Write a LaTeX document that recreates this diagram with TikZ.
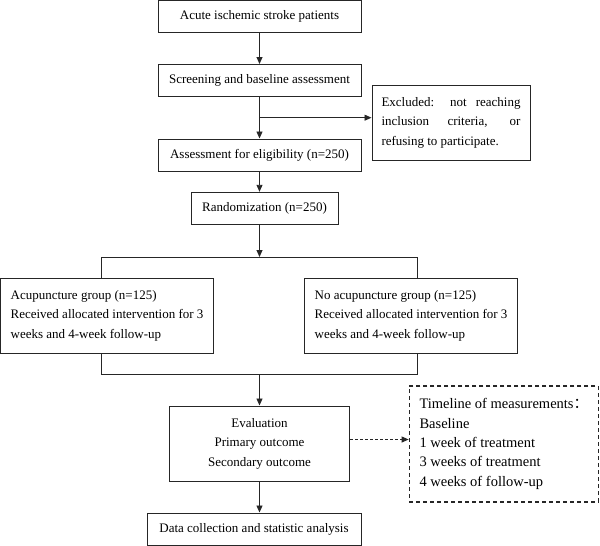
\documentclass[tikz,border=0pt]{standalone}
\usepackage{fontspec}
\setmainfont{Liberation Serif}
\newfontfamily\cjk{Noto Sans CJK SC}
\usetikzlibrary{arrows.meta}
\begin{document}
\begin{tikzpicture}[x=1pt,y=-1pt,
  box/.style={draw=black!85, line width=1pt, inner sep=0pt, minimum height=32pt,
    font=\fontsize{13}{19.5}\selectfont},
  conn/.style={draw=black!85, line width=0.9pt},
  arr/.style={conn, -{Triangle[length=7pt,width=6pt]}},
  darr/.style={conn, dash pattern=on 3pt off 2pt, -{Triangle[length=7pt,width=6pt]}},
]
\useasboundingbox (0,0) rectangle (600,546);

\node[box, minimum width=203pt] (n1) at (259.5,16.2) {Acute ischemic stroke patients};
\node[box, minimum width=203pt] (n2) at (259.5,80.5) {Screening and baseline assessment};
\node[box, minimum width=158pt, minimum height=75.5pt, align=left] (ex) at (451,122.75)
  {\makebox[139pt][s]{Excluded: not reaching}\\
   \makebox[139pt][s]{inclusion criteria, or}\\
   refusing to participate.};
\node[box, minimum width=203pt] (n3) at (259.5,155) {Assessment for eligibility (n=250)};
\node[box, minimum width=147pt] (rand) at (264.5,208.3) {Randomization (n=250)};

\node[box, minimum width=213pt, minimum height=75pt, align=left] (gl) at (107,315.5)
  {Acupuncture group (n=125)\\
   Received allocated intervention for 3\\
   weeks and 4-week follow-up};
\node[box, minimum width=213pt, minimum height=75pt, align=left] (gr) at (411,315.5)
  {No acupuncture group (n=125)\\
   Received allocated intervention for 3\\
   weeks and 4-week follow-up};

\node[box, minimum width=180pt, minimum height=75pt, align=center] (ev) at (259.5,443.5)
  {Evaluation\\ Primary outcome\\ Secondary outcome};

\node[draw=black!85, line width=1.3pt, dash pattern=on 4pt off 3pt, inner sep=0pt,
  minimum width=189pt, minimum height=116pt, align=left,
  font=\fontsize{14.5}{19.4}\selectfont] (tl) at (503.8,444)
  {Timeline of measurements{\cjk ：}\\
   Baseline\\
   1 week of treatment\\
   3 weeks of treatment\\
   4 weeks of follow-up};

\node[box, minimum width=214pt] (data) at (254,529) {Data collection and statistic analysis};

% connectors
\draw[arr] (n1.south) -- (n2.north);
\draw[arr] (n2.south) -- (n3.north);
\coordinate (br) at (259.5,117.7);
\draw[arr] (br) -- (br -| ex.west);
\draw[arr] (n3.south) -- (n3.south |- rand.north);

\coordinate (sp) at (259.5,257);
\coordinate (sl) at (101,257);
\coordinate (sr) at (417,257);
\draw[arr] (rand.south -| sp) -- (sp);
\draw[conn] (gl.north -| sl) -- (sl) -- (sr) -- (gr.north -| sr);

\coordinate (jl) at (101,374);
\coordinate (jr) at (417,374);
\coordinate (jm) at (259.5,374);
\draw[conn] (gl.south -| jl) -- (jl) -- (jr) -- (gr.south -| jr);
\draw[arr] (jm) -- (ev.north);
\draw[arr] (ev.south) -- (ev.south |- data.north);

\coordinate (dy) at (0,439.5);
\draw[darr] (ev.east |- dy) -- (tl.west |- dy);
\end{tikzpicture}
\end{document}
